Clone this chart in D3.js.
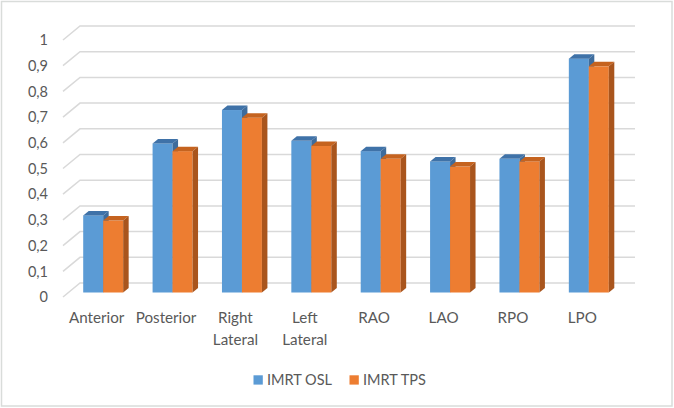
<!DOCTYPE html>
<html>
<head>
    <script src="https://cdn.jsdelivr.net/npm/d3@7"></script>
    <meta charset="utf-8">
    <style>
        body { margin: 0; background: #fff; }
        text { font-family: Lato, "Open Sans", sans-serif; fill: #595959; }
    </style>
</head>
<body>
    <script>
        var categories = ['Anterior', 'Posterior', 'Right Lateral', 'Left Lateral', 'RAO', 'LAO', 'RPO', 'LPO'];
        var series = ['IMRT OSL', 'IMRT TPS'];
        var oslValues = [0.30, 0.58, 0.71, 0.59, 0.55, 0.51, 0.52, 0.91];
        var tpsValues = [0.28, 0.55, 0.68, 0.57, 0.52, 0.49, 0.51, 0.88];
        var yTicks = [0, 0.1, 0.2, 0.3, 0.4, 0.5, 0.6, 0.7, 0.8, 0.9, 1];

        var colors = {
            'IMRT OSL': { front: '#5b9bd5', top: '#3f72a8', side: '#3e6c9c' },
            'IMRT TPS': { front: '#ed7d31', top: '#c5631f', side: '#a9551d' }
        };

        // wall depth (back wall offset) and bar depth
        var wallDx = 17, wallDy = -14;
        var barDx = 5.5, barDy = -4.5;

        var svg = d3.select('body')
            .append('svg')
            .attr('width', 674)
            .attr('height', 408);

        // chart border
        svg.append('rect')
            .attr('x', 1.5).attr('y', 1.5)
            .attr('width', 670.5).attr('height', 404.5)
            .attr('fill', 'none')
            .attr('stroke', '#d9dcda')
            .attr('stroke-width', 1.5);

        var x0 = d3.scaleBand().domain(categories).range([63, 618]);
        var y = d3.scaleLinear().domain([0, 1]).range([297, 40]);
        var barW = x0.bandwidth() * 0.288;
        var x1 = d3.scaleBand().domain(series)
            .range([(x0.bandwidth() - 2 * barW) / 2, (x0.bandwidth() + 2 * barW) / 2]);

        var fmt = d3.formatLocale({ decimal: ',', thousands: '.', grouping: [3], currency: ['', ''] }).format('.1~f');

        // gridlines: side wall diagonal + back wall
        svg.append('g').selectAll('path')
            .data(yTicks)
            .enter()
            .append('path')
            .attr('d', function (d) {
                var p = d3.path();
                p.moveTo(x0.range()[0], y(d));
                p.lineTo(x0.range()[0] + wallDx, y(d) + wallDy);
                p.lineTo(x0.range()[1] + wallDx, y(d) + wallDy);
                return p.toString();
            })
            .attr('fill', 'none')
            .attr('stroke', '#d9d9d9')
            .attr('stroke-width', 1.5);

        // y tick labels
        svg.append('g').selectAll('text')
            .data(yTicks)
            .enter()
            .append('text')
            .attr('x', 48)
            .attr('y', function (d) { return y(d); })
            .attr('dy', '0.36em')
            .attr('text-anchor', 'end')
            .attr('font-size', 14.5)
            .text(fmt);

        // bars
        var rows = [];
        categories.forEach(function (c, i) {
            rows.push({ cat: c, key: 'IMRT OSL', value: oslValues[i] });
            rows.push({ cat: c, key: 'IMRT TPS', value: tpsValues[i] });
        });

        var bars = svg.append('g').selectAll('g')
            .data(rows)
            .enter()
            .append('g');

        function bx(d) { return x0(d.cat) + x1(d.key) + barDx; }
        function btop(d) { return y(d.value) + barDy; }
        var bbot = y(0) + barDy;
        var bw = x1.bandwidth();

        bars.append('rect')
            .attr('x', bx)
            .attr('y', btop)
            .attr('width', bw)
            .attr('height', function (d) { return bbot - btop(d); })
            .attr('fill', function (d) { return colors[d.key].front; });

        bars.append('path')
            .attr('d', function (d) {
                var x = bx(d), t = btop(d);
                return 'M' + x + ',' + t + 'L' + (x + barDx) + ',' + (t + barDy) +
                    'L' + (x + bw + barDx) + ',' + (t + barDy) + 'L' + (x + bw) + ',' + t + 'Z';
            })
            .attr('fill', function (d) { return colors[d.key].top; });

        bars.append('path')
            .attr('d', function (d) {
                var x = bx(d) + bw, t = btop(d);
                return 'M' + x + ',' + t + 'L' + (x + barDx) + ',' + (t + barDy) +
                    'L' + (x + barDx) + ',' + (bbot + barDy) + 'L' + x + ',' + bbot + 'Z';
            })
            .attr('fill', function (d) { return colors[d.key].side; });

        // x labels
        var xl = svg.append('g').selectAll('text')
            .data(categories)
            .enter()
            .append('text')
            .attr('x', function (d) { return x0(d) + x0.bandwidth() / 2 - 1; })
            .attr('y', 318)
            .attr('text-anchor', 'middle')
            .attr('font-size', 15.2);

        xl.each(function (d) {
            var words = d.split(' ');
            var el = d3.select(this);
            words.forEach(function (w, j) {
                el.append('tspan')
                    .attr('x', el.attr('x'))
                    .attr('dy', j === 0 ? '0.36em' : 22)
                    .text(w);
            });
        });

        // legend
        var legendX = [253.5, 349.5];
        var legend = svg.append('g').selectAll('g')
            .data(series)
            .enter()
            .append('g')
            .attr('transform', function (d, i) { return 'translate(' + legendX[i] + ',380)'; });

        legend.append('rect')
            .attr('x', 0).attr('y', -4.7)
            .attr('width', 9.3).attr('height', 9.3)
            .attr('fill', function (d) { return colors[d].front; });

        legend.append('text')
            .attr('x', 13.5)
            .attr('dy', '0.36em')
            .attr('font-size', 14.5)
            .text(function (d) { return d; });
    </script>
</body>
</html>
